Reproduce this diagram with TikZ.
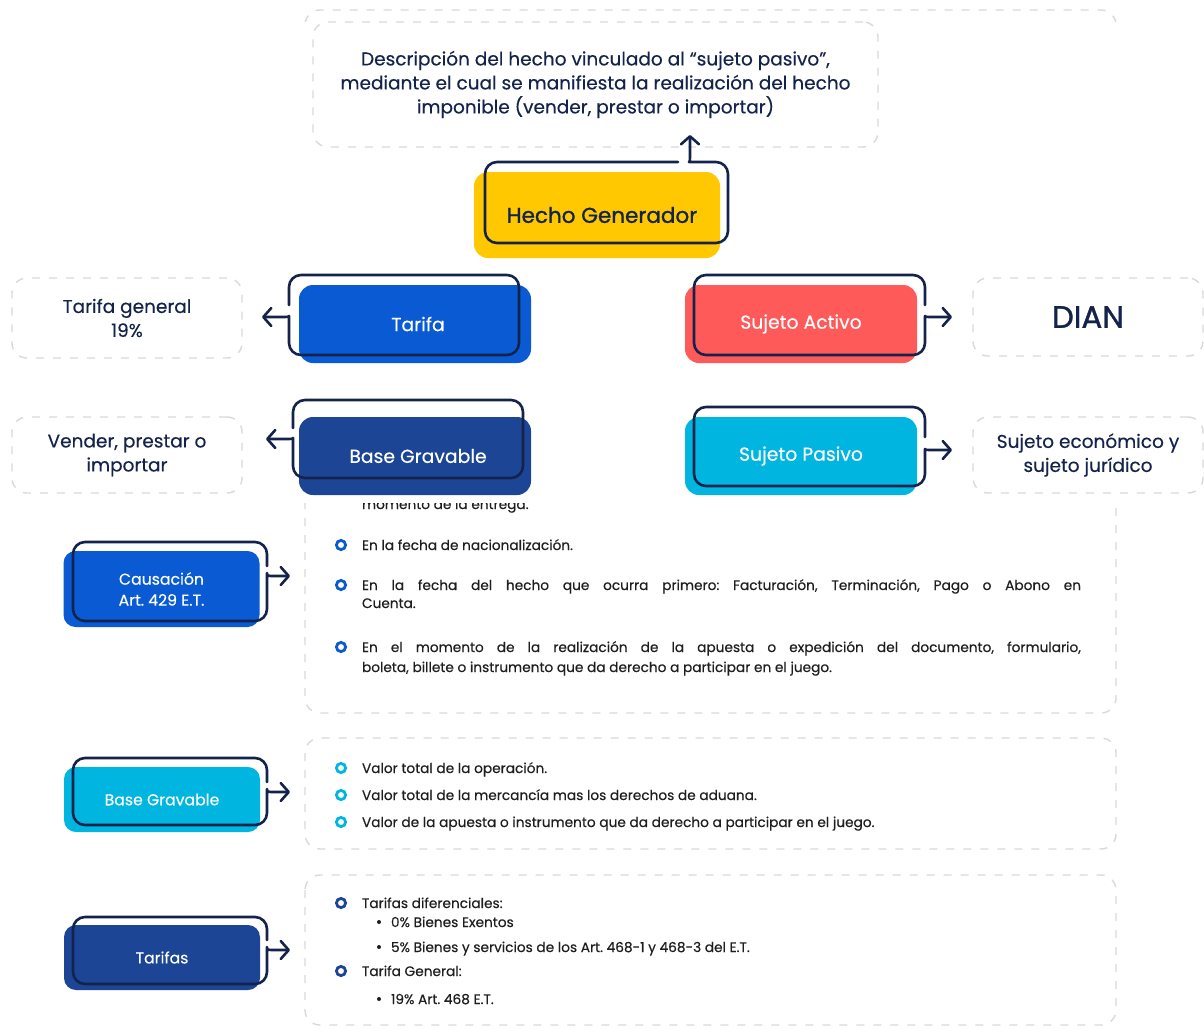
\documentclass[tikz,border=0pt]{standalone}
\usepackage{fontspec}
\setmainfont{Poppins}[FakeBold=0.3]
\newfontfamily\medfont{Poppins}[FakeBold=1.1]
\usetikzlibrary{arrows.meta}
\definecolor{navy}{HTML}{14234B}
\definecolor{amarillo}{HTML}{FFC800}
\definecolor{azul}{HTML}{0A5BD3}
\definecolor{azuloscuro}{HTML}{1C4595}
\definecolor{rojo}{HTML}{FF5A5A}
\definecolor{celeste}{HTML}{00B5E0}
\definecolor{guion}{HTML}{D9D9D9}
\definecolor{texto}{HTML}{1E1E1E}
\frenchspacing

\begin{document}
\begin{tikzpicture}[x=1pt, y=-1pt,
  every node/.style={inner sep=0pt, outer sep=0pt},
  dashbox/.style={draw=guion, line width=1.4pt, dash pattern=on 8pt off 9pt, rounded corners=15pt},
  descbox/.style={dashbox, minimum width=230pt, text=navy, align=center, font=\fontsize{18.5}{24}\selectfont},
  fillbox/.style={rounded corners=14pt, minimum width=232pt, minimum height=78pt, text=white, font=\fontsize{18.8}{22}\selectfont},
  smallbox/.style={rounded corners=12pt, minimum width=196pt, minimum height=65pt, text=white, align=center, font=\fontsize{15.7}{21}\selectfont},
  loopline/.style={draw=navy, line width=2.6pt, rounded corners=12pt, line cap=round, line join=round, -{Straight Barb[length=8pt,width=18pt,round]}},
  item/.style={anchor=base west, text=texto, font=\fontsize{13.7}{16}\selectfont},
  ring/.style={draw=#1, line width=2.8pt},
  ]
  \useasboundingbox (0,0) rectangle (1204,1029);
  \fill[white] (0,0) rectangle (1204,1029);

  % lower panel
  \draw[dashbox] (305,10) rectangle (1116,713);
  \draw[dashbox] (305,738) rectangle (1116,849);
  \draw[dashbox] (305,875) rectangle (1116,1025);

  \node[smallbox, fill=azul, minimum height=76pt] (causa) at (161.5,589) {Causación\\Art. 429 E.T.};
  \node[smallbox, fill=celeste] (bgrav2) at (162,799.5) {Base Gravable};
  \node[smallbox, fill=azuloscuro] (tarifas) at (162,957.5) {Tarifas};

  \coordinate (tipC) at (290,576);
  \coordinate (tipB) at (290,792);
  \coordinate (tipT) at (290,950);
  \draw[loopline] (267,566) -- (267,542) -- (73,542) -- (73,621) -- (267,621) -- (267,585) [sharp corners] .. controls (267,576) .. (276,576) -- (tipC);
  \draw[loopline] (267,782) -- (267,758) -- (73,758) -- (73,825) -- (267,825) -- (267,801) [sharp corners] .. controls (267,792) .. (276,792) -- (tipB);
  \draw[loopline] (267,940) -- (267,917) -- (73,917) -- (73,984) -- (267,984) -- (267,959) [sharp corners] .. controls (267,950) .. (276,950) -- (tipT);

  \node[item] (c0) at (362,509) {momento de la entrega.};
  \draw[ring=azul] (341,545) circle (4.6pt);
  \node[item] (c1) at (362,550) {En la fecha de nacionalización.};
  \draw[ring=azul] (341,585) circle (4.6pt);
  \node[item] (c2) at (362,590) {\makebox[719pt][s]{En la fecha del hecho que ocurra primero: Facturación, Terminación, Pago o Abono en}};
  \node[item] (c2b) at (362,608) {Cuenta.};
  \draw[ring=azul] (341,647) circle (4.6pt);
  \node[item] (c3) at (362,652) {\makebox[719pt][s]{En el momento de la realización de la apuesta o expedición del documento, formulario,}};
  \node[item] (c3b) at (362,672) {boleta, billete o instrumento que da derecho a participar en el juego.};

  \draw[ring=celeste] (341,768) circle (4.6pt);
  \node[item] (b1) at (362,773) {Valor total de la operación.};
  \draw[ring=celeste] (341,795) circle (4.6pt);
  \node[item] (b2) at (362,800) {Valor total de la mercancía mas los derechos de aduana.};
  \draw[ring=celeste] (341,822) circle (4.6pt);
  \node[item] (b3) at (362,827) {Valor de la apuesta o instrumento que da derecho a participar en el juego.};

  \draw[ring=azuloscuro] (341,903) circle (4.6pt);
  \node[item] (t1) at (362,908) {Tarifas diferenciales:};
  \fill[texto] (379,922) circle (2pt);
  \node[item] (t1a) at (391,927) {0\% Bienes Exentos};
  \fill[texto] (379,947) circle (2pt);
  \node[item] (t1b) at (391,952) {5\% Bienes y servicios de los Art. 468-1 y 468-3 del E.T.};
  \draw[ring=azuloscuro] (341,971) circle (4.6pt);
  \node[item] (t2) at (362,976) {Tarifa General:};
  \fill[texto] (379,999) circle (2pt);
  \node[item] (t2a) at (391,1004) {19\% Art. 468 E.T.};

  % upper panel
  \fill[white] (0,22) rectangle (1204,503);

  \node[descbox, minimum width=565pt, minimum height=125pt] (desc) at (595.5,84.5)
    {Descripción del hecho vinculado al “sujeto pasivo”,\\mediante el cual se manifiesta la realización del hecho\\imponible (vender, prestar o importar)};
  \node[descbox, minimum height=80pt] (tgen) at (127,318) {Tarifa general\\19\%};
  \node[descbox, minimum height=76pt] (vender) at (127,455) {Vender, prestar o\\importar};
  \node[descbox, minimum height=78pt, font=\medfont\fontsize{31}{34}\selectfont] (dian) at (1088,317) {DIAN};
  \node[descbox, minimum height=76pt] (sujeto) at (1088,455) {Sujeto económico y\\sujeto jurídico};

  \node[fillbox, fill=amarillo, minimum width=246pt, minimum height=86pt, text=navy, font=\medfont\fontsize{21.5}{24}\selectfont] (hecho) at (597,215) {\hspace*{10pt}Hecho Generador};
  \node[fillbox, fill=azul] (tarifa) at (415,324) {\hspace*{6pt}Tarifa};
  \node[fillbox, fill=azuloscuro] (baseg) at (415,456) {\hspace*{6pt}Base Gravable};
  \node[fillbox, fill=rojo] (sactivo) at (801,324) {Sujeto Activo};
  \node[fillbox, fill=celeste] (spasivo) at (801,456) {Sujeto Pasivo};

  \coordinate (tipH) at (690,135);
  \coordinate (tipTa) at (262,317);
  \coordinate (tipBa) at (266,439);
  \coordinate (tipSa) at (952,317);
  \coordinate (tipSp) at (952,450);
  \draw[loopline] (678,162) -- (485,162) -- (485,243) -- (728,243) -- (728,162) -- (701,162) [sharp corners] .. controls (690,162) .. (690,151) -- (tipH);
  \draw[loopline] (289,305) -- (289,275) -- (519,275) -- (519,355) -- (289,355) -- (289,328) [sharp corners] .. controls (289,317) .. (278,317) -- (tipTa);
  \draw[loopline] (293,428) -- (293,400) -- (523,400) -- (523,478) -- (293,478) -- (293,450) [sharp corners] .. controls (293,439) .. (282,439) -- (tipBa);
  \draw[loopline] (925,305) -- (925,275) -- (694,275) -- (694,355) -- (925,355) -- (925,328) [sharp corners] .. controls (925,317) .. (936,317) -- (tipSa);
  \draw[loopline] (925,437) -- (925,407) -- (694,407) -- (694,486) -- (925,486) -- (925,461) [sharp corners] .. controls (925,450) .. (936,450) -- (tipSp);
\end{tikzpicture}
\end{document}
